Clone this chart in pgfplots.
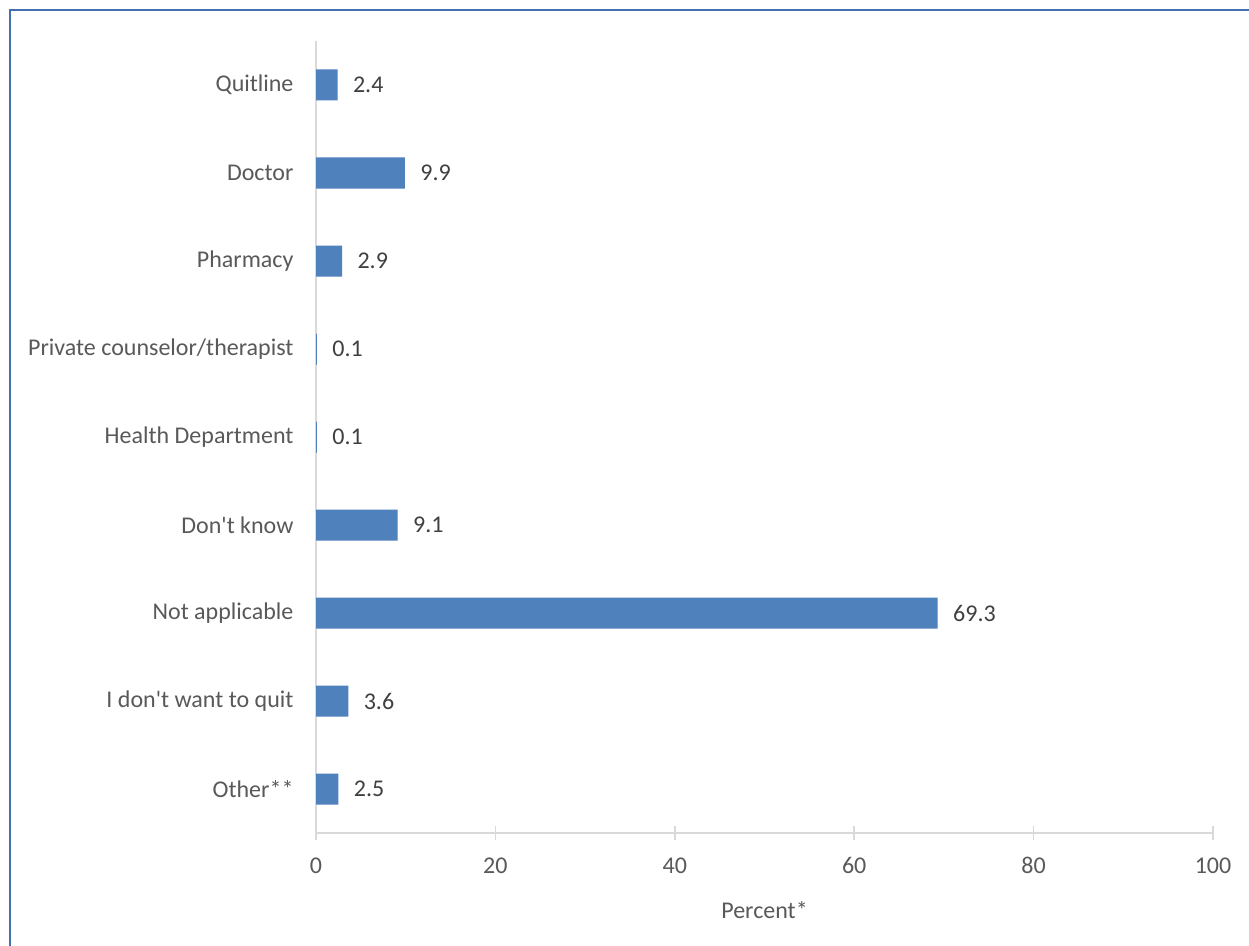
\documentclass[border=0pt]{standalone}
\usepackage{pgfplots}
\pgfplotsset{compat=1.18}
\usepackage{fontspec}
\setmainfont{Carlito}[Ligatures=TeXOff]
\definecolor{barblue}{HTML}{4F81BD}
\definecolor{frameblue}{HTML}{4470B0}
\definecolor{axisgray}{HTML}{D9D9D9}
\definecolor{labgray}{HTML}{595959}
\definecolor{datgray}{HTML}{404040}
\begin{document}
\begin{tikzpicture}[x=1pt,y=1pt]
\useasboundingbox (0,0) rectangle (1249,945);
\fill[white] (0,0) rectangle (1249,945);
\draw[color=frameblue, line width=2pt] (9.5,-5) -- (9.5,934.5) -- (1260,934.5);
\begin{axis}[
  at={(316pt,112pt)}, anchor=south west,
  scale only axis, width=897pt, height=792pt,
  xmin=0, xmax=100, ymin=-0.5, ymax=8.5,
  xbar, bar width=31pt,
  axis x line*=bottom, axis y line*=left,
  axis line style={draw=axisgray, line width=1.5pt, -},
  xtick={0,20,40,60,80,100},
  ytick={0,1,2,3,4,5,6,7,8},
  yticklabels={Other**, I don't want to quit, Not applicable, Don't know, Health Department, Private counselor/therapist, Pharmacy, Doctor, Quitline},
  major tick length=14pt,
  tick align=center,
  xtick style={draw=axisgray, line width=1.5pt},
  ytick style={draw=none},
  font=\fontsize{24}{29}\selectfont,
  /pgf/number format/assume math mode=true,
  tick label style={text=labgray},
  xticklabel style={yshift=-14pt},
  yticklabel style={xshift=-12pt},
  xlabel={Percent*},
  xlabel style={text=labgray, yshift=-20pt},
  nodes near coords,
  nodes near coords style={text=datgray, anchor=west, xshift=12pt, /pgf/number format/.cd, fixed, precision=1, fixed zerofill},
  clip=false,
]
\addplot[fill=barblue, draw=none] coordinates {
(2.5,0) (3.6,1) (69.3,2) (9.1,3) (0.1,4) (0.1,5) (2.9,6) (9.9,7) (2.4,8)
};
\end{axis}
\end{tikzpicture}
\end{document}
